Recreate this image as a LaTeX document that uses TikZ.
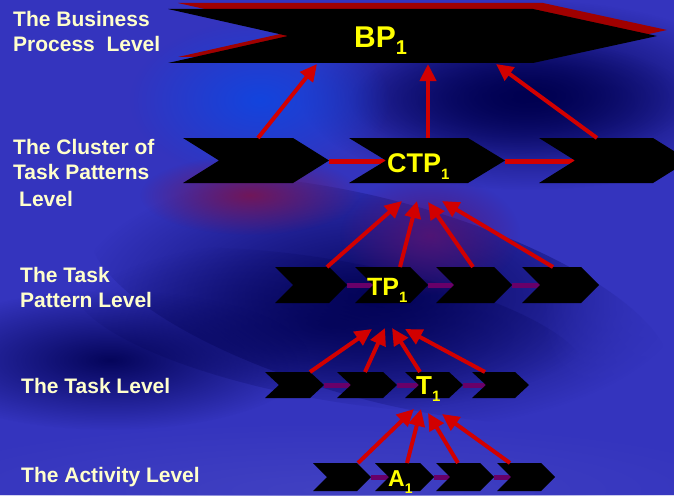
\documentclass[tikz,border=0pt]{standalone}
\usepackage{fontspec}
\setmainfont{Liberation Sans}
\usetikzlibrary{arrows.meta,fadings}
\definecolor{bgblue}{RGB}{52,52,190}
\definecolor{navy}{RGB}{0,0,80}
\definecolor{brightblue}{RGB}{15,70,225}
\definecolor{wine}{RGB}{120,20,80}
\definecolor{plum}{RGB}{85,20,115}
\definecolor{cream}{RGB}{255,255,204}
\definecolor{lblyellow}{RGB}{255,255,0}
\definecolor{arrred}{RGB}{210,0,0}
\definecolor{bpred}{RGB}{160,0,0}
\definecolor{linkpurple}{RGB}{105,0,105}
\tikzfading[name=softblob, inner color=transparent!0, outer color=transparent!100]
\newcommand{\chevshape}[6]{%
  \fill[black] (#2,#4-#5) -- (#3,#4-#5) -- (#3+#6,#4) -- (#3,#4+#5) -- (#2,#4+#5) -- (#2+#6,#4) -- cycle;
  \coordinate (#1-tip) at (#3+#6,#4);
  \coordinate (#1-notch) at (#2+#6,#4);
}
\begin{document}
\begin{tikzpicture}[x=1pt,y=-1pt,
  lbl/.style={text=cream,inner sep=0pt,anchor=base west,font=\fontsize{21}{25}\selectfont\bfseries},
  ttl/.style={text=lblyellow,inner sep=0pt,anchor=base west},
  uparrow/.style={draw=arrred,line width=4pt,-{Triangle[length=17pt,width=16pt]}},
  redlink/.style={draw=arrred,line width=5pt},
  purplink/.style={draw=linkpurple,line width=5pt},
  blob/.style={path fading=softblob}]
% background
\fill[bgblue] (0,0) rectangle (674,495);
\useasboundingbox (0,0) rectangle (674,495);
\fill[navy,blob,opacity=1] (530,95) ellipse [x radius=230pt,y radius=95pt];
\fill[navy,blob,opacity=0.8] (520,100) ellipse [x radius=170pt,y radius=60pt];
\fill[navy,blob,opacity=0.9,rotate around={-15:(380,300)}] (380,300) ellipse [x radius=300pt,y radius=100pt];
\fill[navy,blob,opacity=0.7,rotate around={-10:(330,330)}] (330,330) ellipse [x radius=260pt,y radius=70pt];
\fill[navy,blob,opacity=0.9] (110,360) ellipse [x radius=200pt,y radius=70pt];
\fill[brightblue,blob,opacity=0.9] (260,100) ellipse [x radius=130pt,y radius=80pt];
\fill[wine,blob,opacity=0.9] (250,195) ellipse [x radius=110pt,y radius=40pt];
\fill[plum,blob,opacity=0.9] (430,235) ellipse [x radius=90pt,y radius=60pt];
\fill[bgblue,blob,opacity=0.8] (650,300) ellipse [x radius=110pt,y radius=150pt];
\fill[bgblue!92!white,blob,opacity=0.8] (330,490) ellipse [x radius=450pt,y radius=70pt];
% Business process level
\fill[bpred] (178,3) -- (543,3) -- (667,30) -- (543,57) -- (178,57) -- (298,30) -- cycle;
\fill[black] (168,9) -- (533,9) -- (657,36) -- (533,63) -- (168,63) -- (288,36) -- cycle;
\coordinate (bp-a) at (317,64);
\coordinate (bp-b) at (428,64);
\coordinate (bp-c) at (496,64);
% CTP level
\draw[redlink] (329,161) coordinate (c1-t) -- (387,161) coordinate (c2-n);
\draw[redlink] (505,161) coordinate (c2-t) -- (576,161) coordinate (c3-n);
\chevshape{c1}{183}{293}{160.5}{22.5}{36}
\chevshape{c2}{349}{468}{160.5}{22.5}{37}
\chevshape{c3}{539}{653}{160.5}{22.5}{36}
\coordinate (c1-top) at (258,138);
\coordinate (c2-top) at (428,138);
\coordinate (c3-top) at (597,138);
\coordinate (ctp-a) at (402,201);
\coordinate (ctp-b) at (417,201);
\coordinate (ctp-c) at (428,202);
\coordinate (ctp-d) at (442,201);
% TP level
\draw[purplink] (347,285) -- (373,285);
\draw[purplink] (428,285) -- (454,285);
\draw[purplink] (512,285) -- (540,285);
\chevshape{t1}{275}{329}{285}{18}{18}
\chevshape{t2}{355}{410}{285}{18}{18}
\chevshape{t3}{436}{494}{285}{18}{18}
\chevshape{t4}{522}{581}{285}{18}{18}
\coordinate (t1-top) at (327,267);
\coordinate (t2-top) at (400,267);
\coordinate (t3-top) at (473,267);
\coordinate (t4-top) at (553,267);
\coordinate (tp-a) at (372,329);
\coordinate (tp-b) at (385,328);
\coordinate (tp-c) at (392,328);
\coordinate (tp-d) at (405,329);
% Task level
\draw[purplink] (324,385) -- (351,385);
\draw[purplink] (397,385) -- (419,385);
\draw[purplink] (463,385) -- (486,385);
\chevshape{k1}{265}{310}{385}{13}{14}
\chevshape{k2}{337}{383}{385}{13}{14}
\chevshape{k3}{405}{449}{385}{13}{14}
\chevshape{k4}{472}{515}{385}{13}{14}
\coordinate (k1-top) at (310,372);
\coordinate (k2-top) at (365,372);
\coordinate (k3-top) at (420,372);
\coordinate (k4-top) at (485,372);
\coordinate (tk-a) at (414,409);
\coordinate (tk-b) at (421,409);
\coordinate (tk-c) at (428,413);
\coordinate (tk-d) at (442,414);
% Activity level
\draw[purplink] (371,477) -- (389,477);
\draw[purplink] (434,477) -- (450,477);
\draw[purplink] (494,477) -- (511,477);
\chevshape{a1}{313}{357}{477}{14}{14}
\chevshape{a2}{375}{420}{477}{14}{14}
\chevshape{a3}{436}{480}{477}{14}{14}
\chevshape{a4}{497}{541}{477}{14}{14}
\coordinate (a1-top) at (358,463);
\coordinate (a2-top) at (407,463);
\coordinate (a3-top) at (458,463);
\coordinate (a4-top) at (510,463);
% arrows
\draw[uparrow] (c1-top) -- (bp-a);
\draw[uparrow] (c2-top) -- (bp-b);
\draw[uparrow] (c3-top) -- (bp-c);
\draw[uparrow] (t1-top) -- (ctp-a);
\draw[uparrow] (t2-top) -- (ctp-b);
\draw[uparrow] (t3-top) -- (ctp-c);
\draw[uparrow] (t4-top) -- (ctp-d);
\draw[uparrow] (k1-top) -- (tp-a);
\draw[uparrow] (k2-top) -- (tp-b);
\draw[uparrow] (k3-top) -- (tp-c);
\draw[uparrow] (k4-top) -- (tp-d);
\draw[uparrow] (a1-top) -- (tk-a);
\draw[uparrow] (a2-top) -- (tk-b);
\draw[uparrow] (a3-top) -- (tk-c);
\draw[uparrow] (a4-top) -- (tk-d);
% chevron labels
\node[ttl,font=\fontsize{30}{30}\selectfont\bfseries] (bptxt) at (354,48) {BP\raisebox{-7pt}{\fontsize{20}{20}\selectfont 1}};
\node[ttl,font=\fontsize{27}{27}\selectfont\bfseries] (ctptxt) at (387,172) {CTP\raisebox{-7pt}{\fontsize{15}{15}\selectfont 1}};
\node[ttl,font=\fontsize{25}{25}\selectfont\bfseries] (tptxt) at (367,295) {TP\raisebox{-7pt}{\fontsize{15}{15}\selectfont 1}};
\node[ttl,font=\fontsize{26}{26}\selectfont\bfseries] (ttxt) at (416,394) {T\raisebox{-7pt}{\fontsize{15}{15}\selectfont 1}};
\node[ttl,font=\fontsize{23}{23}\selectfont\bfseries] (atxt) at (388,486) {A\raisebox{-7pt}{\fontsize{14}{14}\selectfont 1}};
% level labels
\node[lbl] (l1a) at (13,27) {The Business};
\node[lbl] (l1b) at (13,52) {Process~~Level};
\node[lbl] (l2a) at (13,154) {The Cluster of};
\node[lbl] (l2b) at (13,179) {Task Patterns};
\node[lbl] (l2c) at (19,206) {Level};
\node[lbl] (l3a) at (20,282) {The Task};
\node[lbl] (l3b) at (20,307) {Pattern Level};
\node[lbl] (l4) at (21,393) {The Task Level};
\node[lbl] (l5) at (21,482) {The Activity Level};
\end{tikzpicture}
\end{document}
